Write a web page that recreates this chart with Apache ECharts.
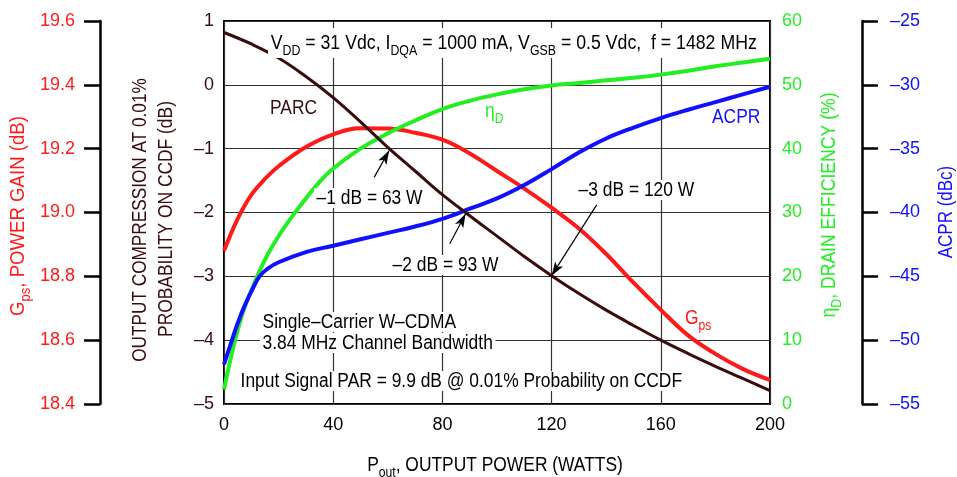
<!DOCTYPE html>
<html>
<head>
<meta charset="utf-8">
<script src="https://cdn.jsdelivr.net/npm/echarts@6/dist/echarts.min.js"></script>
<style>
  html, body { margin: 0; padding: 0; background: #fff; }
  #chart { width: 957px; height: 477px; }
</style>
</head>
<body>
<div id="chart"></div>
<script>
// output power (W) sample points for each curve
let parcX = [0, 10, 20, 30, 40, 50, 60, 70, 80, 90, 100, 110, 120, 130, 140, 150, 160, 170, 180, 190, 200]
let parcY = [0.82, 0.64, 0.42, 0.13, -0.2, -0.58, -0.98, -1.35, -1.72, -2.05, -2.37, -2.69, -2.99, -3.27, -3.53, -3.77, -4.0, -4.21, -4.41, -4.6, -4.79]

let gpsX = [0, 5, 10, 15, 20, 30, 40, 50, 60, 70, 80, 90, 100, 110, 120, 130, 140, 150, 160, 170, 180, 190, 200]
let gpsY = [18.88, 18.98, 19.055, 19.105, 19.145, 19.205, 19.245, 19.264, 19.263, 19.25, 19.228, 19.185, 19.13, 19.075, 19.015, 18.95, 18.87, 18.78, 18.695, 18.615, 18.557, 18.51, 18.475]

let effX = [0, 2, 4, 6, 8, 10, 15, 20, 25, 30, 35, 40, 50, 60, 70, 80, 90, 100, 110, 120, 130, 140, 150, 160, 170, 180, 190, 200]
let effY = [2.3, 6.3, 9.9, 13.1, 15.7, 17.8, 22.6, 26.3, 29.4, 32.2, 34.8, 36.9, 40.0, 42.4, 44.4, 46.2, 47.5, 48.5, 49.3, 49.9, 50.3, 50.7, 51.1, 51.6, 52.2, 52.9, 53.5, 54.1]

let acprX = [0, 2, 4, 6, 8, 10, 13, 16, 20, 30, 40, 50, 60, 70, 80, 90, 100, 110, 120, 130, 140, 150, 160, 170, 180, 190, 200]
let acprY = [-51.9, -50.6, -49.3, -48.1, -47.1, -46.2, -45.0, -44.4, -43.9, -43.1, -42.6, -42.1, -41.6, -41.1, -40.5, -39.7, -38.9, -37.85, -36.6, -35.3, -34.2, -33.35, -32.6, -31.95, -31.35, -30.75, -30.15]

// arrow tails / tips on the PARC curve
let arrows = [
    [[55, -1.45], [60.5, -1.03]],
    [[82.7, -2.49], [88.5, -2.02]],
    [[136.5, -1.88], [120, -2.99]]
]

let xTicks = [0, 200, 40]

function pairs(xs, ys){
    return xs.map((x, i) => [x, ys[i]])
}

let FONT = '"Liberation Sans", Arial, sans-serif'
let BROWN = '#3b0c0c'
let RED = '#ff1a1a'
let GREEN = '#22ee22'
let BLUE = '#1010ff'

function dash(v){
    return (v < 0 ? '\u2013' : '') + Math.abs(v)
}

// text helper: font size 20, squeezed sideways to look like the condensed face
function txt(x, y, text, color, extra, sx){
    return {
        type: 'text', x: x, y: y, z: 50, scaleX: sx || 0.87,
        style: Object.assign({
            text: text, fill: color, font: '20px ' + FONT,
            align: 'left', verticalAlign: 'middle',
            rich: {
                n: { fontSize: 20, fontFamily: FONT, lineHeight: 30, fill: color },
                s: { fontSize: 14, fontFamily: FONT, lineHeight: 15, verticalAlign: 'bottom', fill: color }
            }
        }, extra || {})
    }
}

let box = { backgroundColor: '#fff', padding: [0, 3] }

var myChart = echarts.init(document.getElementById('chart'))

var option = {
    animation: false,
    grid: { left: 224, right: 187, top: 21, bottom: 73, show: true, borderColor: '#000', borderWidth: 2, backgroundColor: 'transparent' },
    xAxis: {
        type: 'value', min: xTicks[0], max: xTicks[1], interval: xTicks[2],
        axisLine: { show: false }, axisTick: { show: false },
        axisLabel: { color: '#000', fontSize: 18, fontFamily: FONT, margin: 12 },
        splitLine: { show: true, lineStyle: { color: '#333', width: 1.2 } }
    },
    yAxis: [
        {
            type: 'value', min: -5, max: 1, interval: 1, position: 'left',
            axisLine: { show: false }, axisTick: { show: false },
            axisLabel: { color: BROWN, fontSize: 18, fontFamily: FONT, margin: 10, formatter: dash },
            splitLine: { show: true, lineStyle: { color: '#333', width: 1.2 } }
        },
        {
            type: 'value', min: 18.4, max: 19.6, interval: 0.2, position: 'left', offset: 124,
            axisLine: { show: true, lineStyle: { color: '#000', width: 2.5 } },
            axisTick: { show: true, length: 16, lineStyle: { color: '#000', width: 2.5 } },
            axisLabel: { color: RED, fontSize: 18, fontFamily: FONT, margin: 25, formatter: v => v.toFixed(1) },
            splitLine: { show: false }
        },
        {
            type: 'value', min: 0, max: 60, interval: 10, position: 'right',
            axisLine: { show: false }, axisTick: { show: false },
            axisLabel: { color: GREEN, fontSize: 18, fontFamily: FONT, margin: 12 },
            splitLine: { show: false }
        },
        {
            type: 'value', min: -55, max: -25, interval: 5, position: 'right', offset: 92,
            axisLine: { show: true, lineStyle: { color: '#000', width: 2.5 } },
            axisTick: { show: true, length: 16, lineStyle: { color: '#000', width: 2.5 } },
            axisLabel: { color: BLUE, fontSize: 18, fontFamily: FONT, margin: 28, formatter: dash },
            splitLine: { show: false }
        }
    ],
    series: [
        {
            name: 'PARC', type: 'line', yAxisIndex: 0, smooth: 0.4, showSymbol: false,
            data: pairs(parcX, parcY), z: 5,
            lineStyle: { color: BROWN, width: 3 },
            markLine: {
                silent: true, symbol: ['none', 'arrow'], symbolSize: [7, 14],
                label: { show: false },
                lineStyle: { color: '#000', width: 1.2, type: 'solid' },
                data: arrows.map(a => [{ coord: a[0] }, { coord: a[1] }])
            }
        },
        { name: 'Gps', type: 'line', yAxisIndex: 1, smooth: 0.4, showSymbol: false, data: pairs(gpsX, gpsY), lineStyle: { color: RED, width: 4 }, z: 3 },
        { name: 'Eff', type: 'line', yAxisIndex: 2, smooth: 0.4, showSymbol: false, data: pairs(effX, effY), lineStyle: { color: GREEN, width: 4 }, z: 4 },
        { name: 'ACPR', type: 'line', yAxisIndex: 3, smooth: 0.4, showSymbol: false, data: pairs(acprX, acprY), lineStyle: { color: BLUE, width: 4 }, z: 4 }
    ],
    graphic: [
        txt(268, 43, '{n|V}{s|DD}{n| = 31 Vdc, I}{s|DQA}{n| = 1000 mA, V}{s|GSB}{n| = 0.5 Vdc,  f = 1482 MHz}', '#000', box, 0.885),
        txt(270, 108, 'PARC', BROWN),
        txt(485, 111, '{n|\u03b7}{s|D}', GREEN),
        txt(712, 117, 'ACPR', BLUE),
        txt(685, 318, '{n|G}{s|ps}', RED),
        txt(314, 198, '\u20131 dB = 63 W', '#000', box),
        txt(390, 265, '\u20132 dB = 93 W', '#000', box),
        txt(576, 190, '\u20133 dB = 120 W', '#000', box),
        txt(260, 322, 'Single\u2013Carrier W\u2013CDMA', '#000', box),
        txt(260, 343, '3.84 MHz Channel Bandwidth', '#000', box),
        txt(238, 381, 'Input Signal PAR = 9.9 dB @ 0.01% Probability on CCDF', '#000', box),
        // axis titles
        txt(18, 216, '{n|G}{s|ps}{n|, POWER GAIN (dB)}', RED, { align: 'center' }, 0.93),
        txt(140, 220, 'OUTPUT COMPRESSION AT 0.01%', BROWN, { align: 'center' }, 0.86),
        txt(166, 219, 'PROBABILITY ON CCDF (dB)', BROWN, { align: 'center' }, 0.87),
        txt(829, 205, '{n|\u03b7}{s|D}{n|, DRAIN EFFICIENCY (%)}', GREEN, { align: 'center' }, 0.88),
        txt(946, 212, 'ACPR (dBc)', BLUE, { align: 'center' }, 0.85),
        txt(495, 465, '{n|P}{s|out}{n|, OUTPUT POWER (WATTS)}', '#000', { align: 'center' }, 0.87)
    ]
}

// rotate the vertical axis titles
for (let i = 11; i <= 15; i++) {
    option.graphic[i].rotation = Math.PI / 2
}

myChart.setOption(option)
</script>
</body>
</html>
